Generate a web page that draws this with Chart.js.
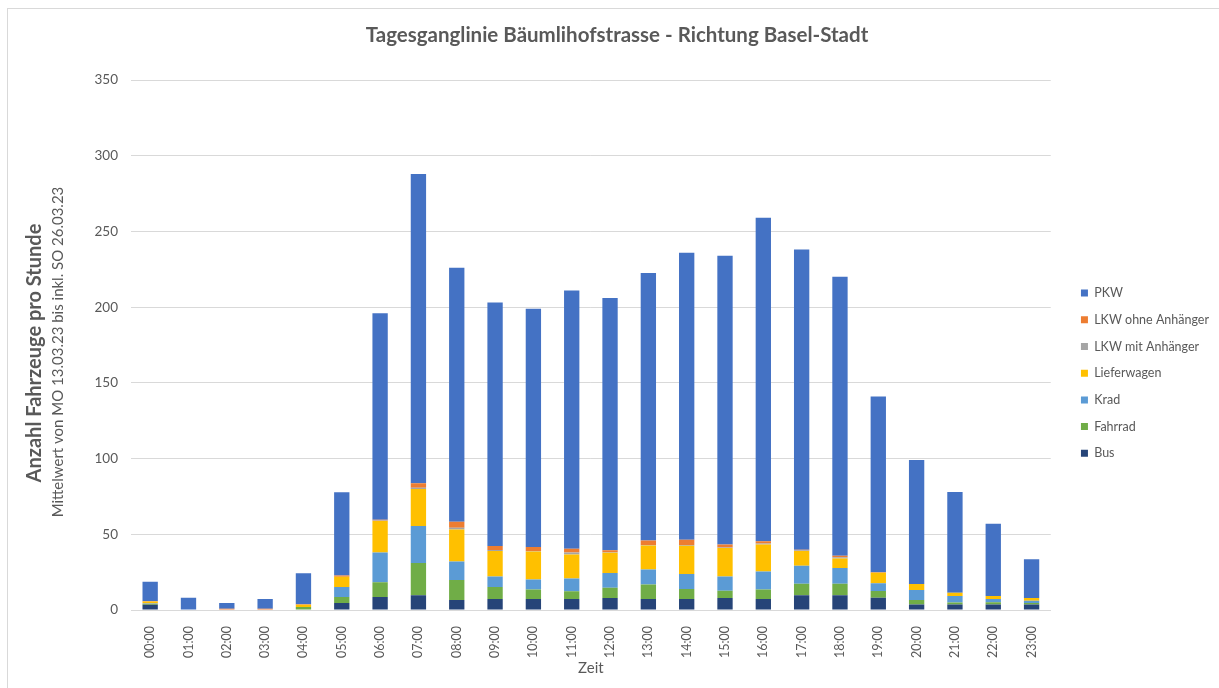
<!DOCTYPE html>
<html><head><meta charset="utf-8">
<script src="https://cdn.jsdelivr.net/npm/chart.js@4/dist/chart.umd.min.js"></script>
<style>
html,body{margin:0;padding:0;background:#fff;}
#wrap{position:relative;width:1219px;height:688px;overflow:hidden;}
#frame{position:absolute;left:7px;top:8px;width:1300px;height:800px;border-left:1px solid #d9d9d9;border-top:1px solid #d9d9d9;}
canvas{position:absolute;left:0;top:0;}
</style></head><body>
<div id="wrap"><div id="frame"></div><canvas id="c" width="1219" height="688"></canvas></div>
<script>
const hours = ['00:00','01:00','02:00','03:00','04:00','05:00','06:00','07:00','08:00','09:00','10:00','11:00','12:00','13:00','14:00','15:00','16:00','17:00','18:00','19:00','20:00','21:00','22:00','23:00'];
const bus     = [3.5, 0, 0, 0, 0, 4.6, 8.6, 9.7, 6.6, 7.3, 7.3, 7.3, 7.9, 7.3, 7.3, 7.9, 7.3, 9.7, 9.7, 8.1, 3.7, 3.7, 3.7, 3.7];
const fahrrad = [0.5, 0, 0, 0, 2, 4, 9.7, 21.4, 13.2, 7.9, 6.2, 5.1, 6.8, 9.5, 6.6, 4.8, 6.2, 7.7, 7.7, 4.4, 2.9, 1.3, 1.5, 0.9];
const krad    = [0.3, 0, 0, 0, 0, 6.6, 19.6, 24.4, 12.3, 7, 6.6, 8.4, 9.7, 9.9, 9.9, 9.5, 11.9, 11.9, 10.4, 5.1, 6.6, 4.2, 2, 1.5];
const liefer  = [1.3, 0, 0.3, 0.3, 1.5, 6.8, 20.9, 24.4, 21.1, 16.7, 18.5, 15.9, 13.4, 15.9, 18.7, 18.7, 17.8, 9.7, 6.2, 7, 4, 2.2, 2, 1.8];
const lkwMit  = [0, 0, 0, 0, 0, 0, 0.3, 0.9, 1.1, 0.7, 0.4, 1.3, 0.4, 0.4, 0.4, 0.4, 0.7, 0.4, 0.9, 0, 0, 0, 0, 0];
const lkwOhne = [0.3, 0, 0.5, 0.5, 0.3, 0.8, 0.5, 2.9, 4, 2.6, 2.6, 2.4, 1.3, 2.9, 3.5, 2, 1.5, 0.4, 0.9, 0.3, 0, 0, 0, 0];
const pkw     = [12.8, 8.1, 3.8, 6.5, 20.4, 55, 136.4, 204.3, 167.7, 160.8, 157.4, 170.6, 166.5, 176.6, 189.6, 190.7, 213.6, 198.2, 184.2, 116.1, 81.8, 66.6, 47.8, 25.6];
const seriesNames = ['Bus','Fahrrad','Krad','Lieferwagen','LKW mit Anhänger','LKW ohne Anhänger','PKW'];
const seriesColors = ['#264478','#70AD47','#5B9BD5','#FFC000','#A5A5A5','#ED7D31','#4472C4'];
const CHART_TITLE = 'Tagesganglinie Bäumlihofstrasse - Richtung Basel-Stadt';
const Y_TITLE = 'Anzahl Fahrzeuge pro Stunde';
const Y_SUBTITLE = 'Mittelwert von MO 13.03.23 bis inkl. SO 26.03.23';
const X_TITLE = 'Zeit';

const seriesData = [bus, fahrrad, krad, liefer, lkwMit, lkwOhne, pkw];
const TEXT = '#595959';
const FONT = 'Lato';

const yTitles = {
  id: 'yTitles',
  afterDraw(chart) {
    const ctx = chart.ctx;
    ctx.save();
    ctx.fillStyle = TEXT;
    ctx.textAlign = 'center';
    ctx.textBaseline = 'middle';
    ctx.translate(35, 353);
    ctx.rotate(-Math.PI / 2);
    ctx.font = 'bold 20px ' + FONT;
    ctx.fillText(Y_TITLE, 0, 0);
    ctx.restore();
    ctx.save();
    ctx.fillStyle = TEXT;
    ctx.textAlign = 'center';
    ctx.textBaseline = 'middle';
    ctx.translate(58, 352);
    ctx.rotate(-Math.PI / 2);
    ctx.font = '15px ' + FONT;
    ctx.fillText(Y_SUBTITLE, 0, 0);
    ctx.restore();
  }
};

new Chart(document.getElementById('c'), {
  type: 'bar',
  data: {
    labels: hours,
    datasets: seriesNames.map((n, i) => ({label: n, data: seriesData[i], backgroundColor: seriesColors[i], borderWidth: 0}))
  },
  options: {
    responsive: false,
    animation: false,
    datasets: {bar: {categoryPercentage: 1, barPercentage: 0.4}},
    layout: {padding: {left: 15, right: 0, top: 0, bottom: 0}},
    plugins: {
      title: {display: true, text: CHART_TITLE, color: TEXT, font: {family: FONT, size: 20.5, weight: 'bold'}, padding: {top: 23, bottom: 32.4}},
      legend: {
        position: 'right', reverse: true, align: 'center',
        title: {display: true, text: '', padding: {top: 44, bottom: 0}},
        labels: {boxWidth: 7, boxHeight: 7, padding: 14.2, color: TEXT, font: {family: FONT, size: 12.5}}
      },
      tooltip: {enabled: false}
    },
    scales: {
      x: {
        stacked: true,
        grid: {display: false},
        border: {display: true, color: '#d9d9d9'},
        ticks: {color: TEXT, font: {family: FONT, size: 12.5}, maxRotation: 90, minRotation: 90, padding: 8},
        title: {display: true, text: X_TITLE, color: TEXT, font: {family: FONT, size: 15}, padding: {top: 0, bottom: 11}},
        afterFit(s) { s.height = 78; }
      },
      y: {
        stacked: true, min: 0, max: 350,
        ticks: {stepSize: 50, color: TEXT, font: {family: FONT, size: 13.5}, padding: 13},
        grid: {color: '#d9d9d9', drawTicks: false},
        border: {display: false},
        afterFit(s) { s.width = 116; }
      },
      y2: {
        position: 'right', display: true,
        grid: {display: false}, ticks: {display: false}, border: {display: false},
        afterFit(s) { s.width = 16; }
      }
    }
  },
  plugins: [yTitles]
});
</script>
</body></html>
